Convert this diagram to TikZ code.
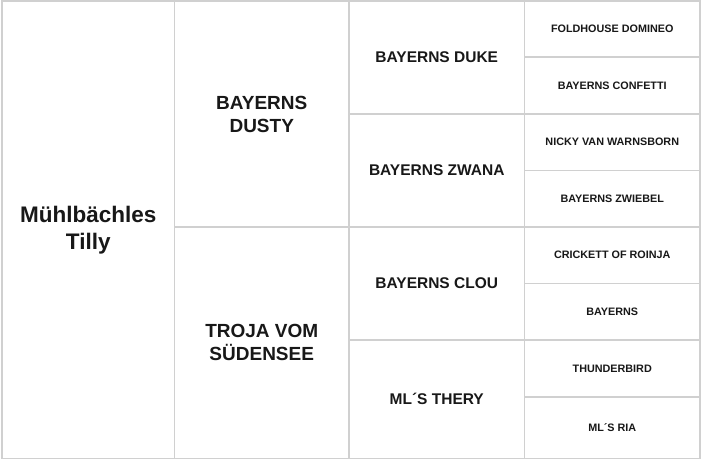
\documentclass[tikz,border=0pt]{standalone}
\usepackage{fontspec}
\setmainfont{Liberation Sans}
\definecolor{gridgray}{RGB}{208,208,208}
\definecolor{ink}{RGB}{24,24,24}
\begin{document}
\begin{tikzpicture}[x=1pt,y=-1pt,
  cell/.style={draw=gridgray, line width=1.2pt, inner sep=0pt, align=center, text=ink},
  gen1/.style={cell, font=\fontsize{22.5}{27}\selectfont\bfseries},
  gen2/.style={cell, font=\fontsize{19}{23}\selectfont\bfseries},
  gen3/.style={cell, font=\fontsize{15.5}{18.6}\selectfont\bfseries},
  gen4/.style={cell, font=\fontsize{10.8}{13}\selectfont\bfseries}]
\useasboundingbox[fill=white] (0,0) rectangle (702,460);
% generation 1
\node[gen1, minimum width=172.5pt, minimum height=457.5pt] (p) at (88.25,229.75) {Mühlbächles\\Tilly};
% generation 2
\node[gen2, minimum width=174.5pt, minimum height=226pt] (s) at (261.75,114) {BAYERNS\\DUSTY};
\node[gen2, minimum width=174.5pt, minimum height=231.5pt] (d) at (261.75,342.75) {TROJA VOM\\SÜDENSEE};
% generation 3
\node[gen3, minimum width=175.5pt, minimum height=113pt] (ss) at (436.75,57.5) {BAYERNS DUKE};
\node[gen3, minimum width=175.5pt, minimum height=113pt] (sd) at (436.75,170.5) {BAYERNS ZWANA};
\node[gen3, minimum width=175.5pt, minimum height=113pt] (ds) at (436.75,283.5) {BAYERNS CLOU};
\node[gen3, minimum width=175.5pt, minimum height=118.5pt] (dd) at (436.75,399.25) {ML´S THERY};
% generation 4
\node[gen4, minimum width=175.5pt, minimum height=56pt] (sss) at (612.25,29) {FOLDHOUSE DOMINEO};
\node[gen4, minimum width=175.5pt, minimum height=57pt] (ssd) at (612.25,85.5) {BAYERNS CONFETTI};
\node[gen4, minimum width=175.5pt, minimum height=56.5pt] (sds) at (612.25,142.25) {NICKY VAN WARNSBORN};
\node[gen4, minimum width=175.5pt, minimum height=56.5pt] (sdd) at (612.25,198.75) {BAYERNS ZWIEBEL};
\node[gen4, minimum width=175.5pt, minimum height=56.5pt] (dss) at (612.25,255.25) {CRICKETT OF ROINJA};
\node[gen4, minimum width=175.5pt, minimum height=56.5pt] (dsd) at (612.25,311.75) {BAYERNS};
\node[gen4, minimum width=175.5pt, minimum height=57pt] (dds) at (612.25,368.5) {THUNDERBIRD};
\node[gen4, minimum width=175.5pt, minimum height=61.5pt] (ddd) at (612.25,427.75) {ML´S RIA};
\end{tikzpicture}
\end{document}
